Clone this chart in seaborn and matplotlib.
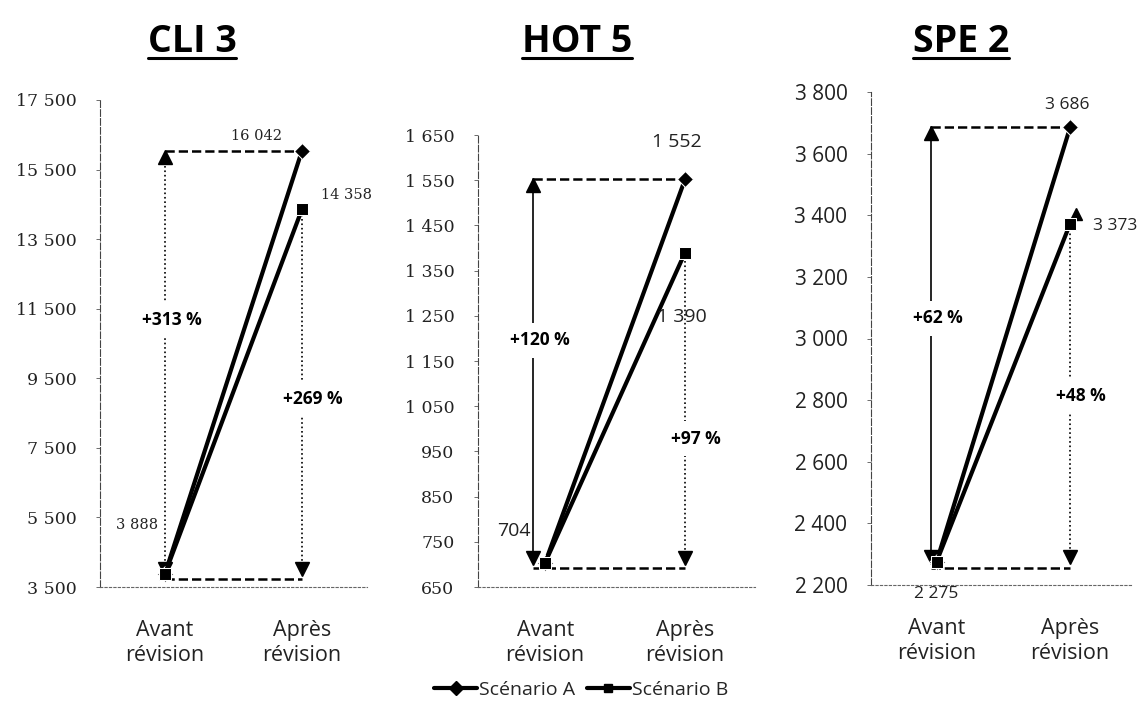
import numpy as np
import pandas as pd
import seaborn as sns
import matplotlib.pyplot as plt
from matplotlib.lines import Line2D
from matplotlib.ticker import FuncFormatter

# data
titles = ["CLI 3", "HOT 5", "SPE 2"]
categories = ["Avant\nrévision", "Après\nrévision"]
scenario_a = [[3888, 16042], [704, 1552], [2275, 3686]]
scenario_b = [[3888, 14358], [704, 1390], [2275, 3373]]
pct_a = ["+313 %", "+120 %", "+62 %"]
pct_b = ["+269 %", "+97 %", "+48 %"]
labels_a = [["3 888", "16 042"], ["704", "1 552"], ["2 275", "3 686"]]
labels_b = ["14 358", "1 390", "3 373"]
y_ticks = [(3500, 17500, 2000), (650, 1650, 100), (2200, 3800, 200)]

sns.set_theme(style="white")
plt.rcParams['font.family'] = ['Open Sans', 'DejaVu Sans']

W, H = 1144, 708
fig = plt.figure(figsize=(W / 100, H / 100), dpi=100)

# panel layout in pixels: left, right, top, bottom
boxes = [(100, 367, 100, 587), (478, 755, 135, 587), (871, 1133, 92, 585)]
xlims = [(-0.475, 1.475), (-0.48, 1.5), (-0.49, 1.47)]
title_x = [192, 577, 961]
tick_font = ["DejaVu Serif", "DejaVu Serif", "Open Sans"]
tick_size = [12.5, 12.5, 15]
val_font = ["DejaVu Serif", "Open Sans", "Open Sans"]
val_size = [10.5, 14, 12.5]
left_style = [":", "-", "-"]
left_x = [0, -0.09, -0.04]
frac_a = [0.6, 0.58, 0.56]
frac_b = [0.48, 0.40, 0.49]
off_avant = [(-28, 49), (-31, 32), (0, -32)]
off_a = [(-45, 15), (-8, 37), (-3, 22)]
off_b = [(45, 14), (-3, -64), (45, -2)]

fmt = FuncFormatter(lambda v, p: "{:,.0f}".format(v).replace(",", " "))

for i in range(3):
    l, r, t, b = boxes[i]
    ax = fig.add_axes([l / W, 1 - b / H, (r - l) / W, (b - t) / H])
    df = pd.DataFrame({
        "pos": [0, 1, 0, 1],
        "value": scenario_a[i] + scenario_b[i],
        "scenario": ["Scénario A"] * 2 + ["Scénario B"] * 2,
    })
    sns.lineplot(data=df, x="pos", y="value", style="scenario",
                 markers={"Scénario A": "D", "Scénario B": "s"}, dashes=False,
                 color="black", linewidth=3, markersize=8, ax=ax, legend=False, zorder=5)

    lo, hi, step = y_ticks[i]
    ax.set_ylim(lo, hi)
    ax.set_yticks(np.arange(lo, hi + 1, step))
    ax.yaxis.set_major_formatter(fmt)
    ax.set_xlim(*xlims[i])
    ax.set_xticks([0, 1])
    ax.set_xticklabels(categories, fontsize=15.5, color="#222222", linespacing=1.25)
    ax.tick_params(axis="x", length=0, pad=24)
    ax.tick_params(axis="y", length=3, width=0.6, color="#555555", pad=14, left=True)
    for lab in ax.get_yticklabels():
        lab.set_family(tick_font[i])
        lab.set_fontsize(tick_size[i])
        lab.set_color("#222222")
    ax.set_xlabel("")
    ax.set_ylabel("")
    for s in ["top", "right"]:
        ax.spines[s].set_visible(False)
    ax.spines["left"].set_linestyle((0, (6, 2)))
    ax.spines["left"].set_linewidth(0.8)
    ax.spines["left"].set_color("#444444")
    ax.spines["bottom"].set_linestyle((0, (2, 2)))
    ax.spines["bottom"].set_linewidth(0.8)
    ax.spines["bottom"].set_color("#666666")

    avant, a_after = scenario_a[i]
    b_after = scenario_b[i][1]
    xl = left_x[i]

    # horizontal dashed guides
    ax.plot([xl, 1], [a_after, a_after], ls="--", lw=1.8, color="black", zorder=3)
    ax.plot([xl, 1], [avant - (hi - lo) * 0.012] * 2, ls="--", lw=1.8, color="black", zorder=3)

    # left arrow (scenario A change)
    ax.plot([xl, xl], [avant, a_after], ls=left_style[i], lw=1.2, color="black", zorder=2)
    ax.plot([xl], [a_after - (hi - lo) * 0.012], marker="^", ms=10, color="black", zorder=4)
    ax.plot([xl], [avant + (hi - lo) * 0.01], marker="v", ms=10, color="black", zorder=4)
    ax.text(xl + 0.05, avant + frac_a[i] * (a_after - avant), pct_a[i], ha="center", va="center",
            fontsize=12.5, fontweight="bold", color="black", zorder=6,
            bbox=dict(facecolor="white", edgecolor="none", pad=6))

    # right arrow (scenario B change)
    ax.plot([1, 1], [avant, b_after], ls=":", lw=1.2, color="black", zorder=2)
    ax.plot([1], [avant + (hi - lo) * 0.01], marker="v", ms=10, color="black", zorder=4)
    if i == 2:
        ax.plot([1.04], [b_after + (hi - lo) * 0.02], marker="^", ms=9, color="black", zorder=4)
    ax.text(1.08, avant + frac_b[i] * (b_after - avant), pct_b[i], ha="center", va="center",
            fontsize=12.5, fontweight="bold", color="black", zorder=6,
            bbox=dict(facecolor="white", edgecolor="none", pad=6))

    # value labels
    for txt, xy, off in [(labels_a[i][0], (0, avant), off_avant[i]),
                         (labels_a[i][1], (1, a_after), off_a[i]),
                         (labels_b[i], (1, b_after), off_b[i])]:
        ax.annotate(txt, xy=xy, xytext=off, textcoords="offset pixels", ha="center", va="center",
                    fontsize=val_size[i], family=val_font[i], color="#222222", zorder=7)

    # underlined bold title
    fig.text(title_x[i] / W, 1 - 52 / H, titles[i], ha="center", va="baseline",
             fontsize=27, fontweight="bold", color="black")

fig.canvas.draw()
renderer = fig.canvas.get_renderer()
for t in fig.texts:
    bb = t.get_window_extent(renderer).transformed(fig.transFigure.inverted())
    fig.add_artist(Line2D([bb.x0, bb.x1], [1 - 58 / H] * 2, lw=2.2, color="black"))

handles = [Line2D([], [], color="black", lw=3, marker="D", ms=7),
           Line2D([], [], color="black", lw=3, marker="s", ms=6)]
fig.legend(handles, ["Scénario A", "Scénario B"], loc="center", bbox_to_anchor=(0.508, 1 - 690 / H),
           ncol=2, frameon=False, fontsize=14, handlelength=2.2, columnspacing=0.6, handletextpad=0.1)

fig.savefig("out.png", dpi=100, facecolor="white")
